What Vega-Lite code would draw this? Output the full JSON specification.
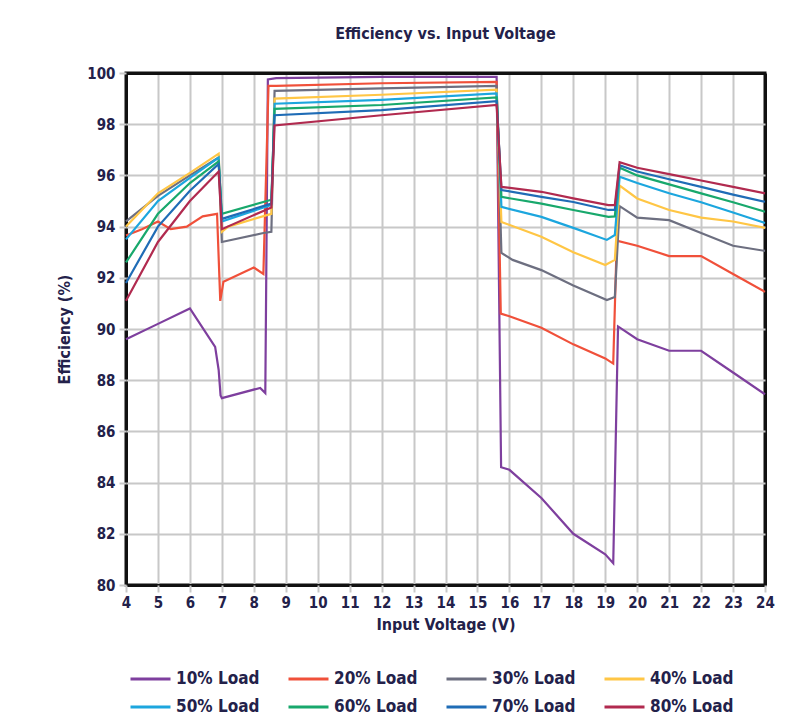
{
  "$schema": "https://vega.github.io/schema/vega-lite/v6.json",
  "width": 639,
  "height": 512,
  "autosize": {"type": "none"},
  "padding": {"left": 126, "top": 73, "right": 36, "bottom": 135},
  "background": "white",
  "config": {
    "font": "DejaVu Sans Condensed, sans-serif",
    "view": {"stroke": "#111111", "strokeWidth": 3},
    "axis": {
      "domain": false,
      "tickColor": "#c8c8c8",
      "tickWidth": 2,
      "tickSize": 7,
      "labelFont": "DejaVu Sans Condensed, sans-serif",
      "labelFontWeight": "bold",
      "labelFontSize": 15,
      "labelColor": "#23214a",
      "titleFont": "DejaVu Sans Condensed, sans-serif",
      "titleFontWeight": "bold",
      "titleFontSize": 16,
      "titleColor": "#23214a"
    }
  },
  "title": {
    "text": "Efficiency vs. Input Voltage",
    "font": "DejaVu Sans Condensed, sans-serif",
    "fontSize": 16,
    "fontWeight": "bold",
    "color": "#23214a",
    "anchor": "middle",
    "frame": "group",
    "offset": 24
  },
  "data": {
    "values": [
      {"v": 4, "e": 89.6, "s": "10% Load"},
      {"v": 5, "e": 90.2, "s": "10% Load"},
      {"v": 6, "e": 90.8, "s": "10% Load"},
      {"v": 6.79, "e": 89.3, "s": "10% Load"},
      {"v": 6.9, "e": 88.4, "s": "10% Load"},
      {"v": 6.96, "e": 87.4, "s": "10% Load"},
      {"v": 7.0, "e": 87.3, "s": "10% Load"},
      {"v": 8.2, "e": 87.7, "s": "10% Load"},
      {"v": 8.36, "e": 87.5, "s": "10% Load"},
      {"v": 8.44, "e": 99.75, "s": "10% Load"},
      {"v": 8.7, "e": 99.8, "s": "10% Load"},
      {"v": 12, "e": 99.85, "s": "10% Load"},
      {"v": 15.6, "e": 99.85, "s": "10% Load"},
      {"v": 15.74, "e": 84.6, "s": "10% Load"},
      {"v": 16, "e": 84.5, "s": "10% Load"},
      {"v": 17, "e": 83.4, "s": "10% Load"},
      {"v": 18, "e": 82.0, "s": "10% Load"},
      {"v": 19, "e": 81.2, "s": "10% Load"},
      {"v": 19.25, "e": 80.85, "s": "10% Load"},
      {"v": 19.4, "e": 90.1, "s": "10% Load"},
      {"v": 20, "e": 89.6, "s": "10% Load"},
      {"v": 21, "e": 89.15, "s": "10% Load"},
      {"v": 22, "e": 89.15, "s": "10% Load"},
      {"v": 23, "e": 88.3, "s": "10% Load"},
      {"v": 24, "e": 87.45, "s": "10% Load"},

      {"v": 4, "e": 93.65, "s": "20% Load"},
      {"v": 4.5, "e": 93.9, "s": "20% Load"},
      {"v": 5, "e": 94.2, "s": "20% Load"},
      {"v": 5.4, "e": 93.9, "s": "20% Load"},
      {"v": 5.9, "e": 94.0, "s": "20% Load"},
      {"v": 6.4, "e": 94.4, "s": "20% Load"},
      {"v": 6.85, "e": 94.5, "s": "20% Load"},
      {"v": 6.95, "e": 91.1, "s": "20% Load"},
      {"v": 7.05, "e": 91.85, "s": "20% Load"},
      {"v": 8.0, "e": 92.4, "s": "20% Load"},
      {"v": 8.3, "e": 92.15, "s": "20% Load"},
      {"v": 8.46, "e": 99.5, "s": "20% Load"},
      {"v": 8.7, "e": 99.5, "s": "20% Load"},
      {"v": 12, "e": 99.6, "s": "20% Load"},
      {"v": 15.6, "e": 99.65, "s": "20% Load"},
      {"v": 15.73, "e": 90.6, "s": "20% Load"},
      {"v": 16, "e": 90.5, "s": "20% Load"},
      {"v": 17, "e": 90.05, "s": "20% Load"},
      {"v": 18, "e": 89.4, "s": "20% Load"},
      {"v": 19, "e": 88.85, "s": "20% Load"},
      {"v": 19.25, "e": 88.65, "s": "20% Load"},
      {"v": 19.36, "e": 93.45, "s": "20% Load"},
      {"v": 20, "e": 93.25, "s": "20% Load"},
      {"v": 21, "e": 92.85, "s": "20% Load"},
      {"v": 22, "e": 92.85, "s": "20% Load"},
      {"v": 23, "e": 92.15, "s": "20% Load"},
      {"v": 24, "e": 91.45, "s": "20% Load"},

      {"v": 4, "e": 94.2, "s": "30% Load"},
      {"v": 5, "e": 95.2, "s": "30% Load"},
      {"v": 6, "e": 96.0, "s": "30% Load"},
      {"v": 6.9, "e": 96.7, "s": "30% Load"},
      {"v": 7.0, "e": 93.4, "s": "30% Load"},
      {"v": 8.3, "e": 93.75, "s": "30% Load"},
      {"v": 8.55, "e": 93.8, "s": "30% Load"},
      {"v": 8.65, "e": 99.3, "s": "30% Load"},
      {"v": 12, "e": 99.4, "s": "30% Load"},
      {"v": 15.6, "e": 99.5, "s": "30% Load"},
      {"v": 15.75, "e": 92.97, "s": "30% Load"},
      {"v": 16.1, "e": 92.7, "s": "30% Load"},
      {"v": 17, "e": 92.3, "s": "30% Load"},
      {"v": 18, "e": 91.7, "s": "30% Load"},
      {"v": 19.05, "e": 91.13, "s": "30% Load"},
      {"v": 19.3, "e": 91.25, "s": "30% Load"},
      {"v": 19.45, "e": 94.8, "s": "30% Load"},
      {"v": 20, "e": 94.35, "s": "30% Load"},
      {"v": 21, "e": 94.25, "s": "30% Load"},
      {"v": 22, "e": 93.75, "s": "30% Load"},
      {"v": 23, "e": 93.25, "s": "30% Load"},
      {"v": 24, "e": 93.05, "s": "30% Load"},

      {"v": 4, "e": 94.0, "s": "40% Load"},
      {"v": 5, "e": 95.3, "s": "40% Load"},
      {"v": 6, "e": 96.1, "s": "40% Load"},
      {"v": 6.9, "e": 96.85, "s": "40% Load"},
      {"v": 7.0, "e": 93.8, "s": "40% Load"},
      {"v": 7.2, "e": 94.0, "s": "40% Load"},
      {"v": 8.55, "e": 94.5, "s": "40% Load"},
      {"v": 8.65, "e": 99.0, "s": "40% Load"},
      {"v": 12, "e": 99.15, "s": "40% Load"},
      {"v": 15.6, "e": 99.35, "s": "40% Load"},
      {"v": 15.75, "e": 94.18, "s": "40% Load"},
      {"v": 17, "e": 93.6, "s": "40% Load"},
      {"v": 18, "e": 93.0, "s": "40% Load"},
      {"v": 19.0, "e": 92.5, "s": "40% Load"},
      {"v": 19.3, "e": 92.7, "s": "40% Load"},
      {"v": 19.45, "e": 95.6, "s": "40% Load"},
      {"v": 20, "e": 95.1, "s": "40% Load"},
      {"v": 21, "e": 94.65, "s": "40% Load"},
      {"v": 22, "e": 94.35, "s": "40% Load"},
      {"v": 23, "e": 94.2, "s": "40% Load"},
      {"v": 24, "e": 93.95, "s": "40% Load"},

      {"v": 4, "e": 93.5, "s": "50% Load"},
      {"v": 5, "e": 95.0, "s": "50% Load"},
      {"v": 6, "e": 95.9, "s": "50% Load"},
      {"v": 6.9, "e": 96.7, "s": "50% Load"},
      {"v": 7.0, "e": 94.2, "s": "50% Load"},
      {"v": 8.55, "e": 94.85, "s": "50% Load"},
      {"v": 8.65, "e": 98.8, "s": "50% Load"},
      {"v": 12, "e": 98.95, "s": "50% Load"},
      {"v": 15.6, "e": 99.2, "s": "50% Load"},
      {"v": 15.75, "e": 94.77, "s": "50% Load"},
      {"v": 17, "e": 94.38, "s": "50% Load"},
      {"v": 18, "e": 93.95, "s": "50% Load"},
      {"v": 19.05, "e": 93.48, "s": "50% Load"},
      {"v": 19.3, "e": 93.67, "s": "50% Load"},
      {"v": 19.45, "e": 95.95, "s": "50% Load"},
      {"v": 20, "e": 95.7, "s": "50% Load"},
      {"v": 21, "e": 95.3, "s": "50% Load"},
      {"v": 22, "e": 94.95, "s": "50% Load"},
      {"v": 23, "e": 94.55, "s": "50% Load"},
      {"v": 24, "e": 94.14, "s": "50% Load"},

      {"v": 4, "e": 92.6, "s": "60% Load"},
      {"v": 5, "e": 94.5, "s": "60% Load"},
      {"v": 6, "e": 95.7, "s": "60% Load"},
      {"v": 6.9, "e": 96.55, "s": "60% Load"},
      {"v": 7.0, "e": 94.5, "s": "60% Load"},
      {"v": 8.55, "e": 95.05, "s": "60% Load"},
      {"v": 8.65, "e": 98.6, "s": "60% Load"},
      {"v": 12, "e": 98.75, "s": "60% Load"},
      {"v": 15.6, "e": 99.05, "s": "60% Load"},
      {"v": 15.75, "e": 95.16, "s": "60% Load"},
      {"v": 17, "e": 94.9, "s": "60% Load"},
      {"v": 18, "e": 94.65, "s": "60% Load"},
      {"v": 19.1, "e": 94.38, "s": "60% Load"},
      {"v": 19.3, "e": 94.4, "s": "60% Load"},
      {"v": 19.45, "e": 96.3, "s": "60% Load"},
      {"v": 20, "e": 96.0, "s": "60% Load"},
      {"v": 21, "e": 95.65, "s": "60% Load"},
      {"v": 22, "e": 95.3, "s": "60% Load"},
      {"v": 23, "e": 94.95, "s": "60% Load"},
      {"v": 24, "e": 94.58, "s": "60% Load"},

      {"v": 4, "e": 91.8, "s": "70% Load"},
      {"v": 5, "e": 94.0, "s": "70% Load"},
      {"v": 6, "e": 95.4, "s": "70% Load"},
      {"v": 6.9, "e": 96.45, "s": "70% Load"},
      {"v": 7.0, "e": 94.3, "s": "70% Load"},
      {"v": 8.55, "e": 94.9, "s": "70% Load"},
      {"v": 8.65, "e": 98.35, "s": "70% Load"},
      {"v": 12, "e": 98.55, "s": "70% Load"},
      {"v": 15.6, "e": 98.9, "s": "70% Load"},
      {"v": 15.75, "e": 95.43, "s": "70% Load"},
      {"v": 17, "e": 95.16, "s": "70% Load"},
      {"v": 18, "e": 94.96, "s": "70% Load"},
      {"v": 19.1, "e": 94.65, "s": "70% Load"},
      {"v": 19.3, "e": 94.65, "s": "70% Load"},
      {"v": 19.45, "e": 96.4, "s": "70% Load"},
      {"v": 20, "e": 96.15, "s": "70% Load"},
      {"v": 21, "e": 95.85, "s": "70% Load"},
      {"v": 22, "e": 95.55, "s": "70% Load"},
      {"v": 23, "e": 95.25, "s": "70% Load"},
      {"v": 24, "e": 94.97, "s": "70% Load"},

      {"v": 4, "e": 91.1, "s": "80% Load"},
      {"v": 5, "e": 93.4, "s": "80% Load"},
      {"v": 6, "e": 95.0, "s": "80% Load"},
      {"v": 6.9, "e": 96.15, "s": "80% Load"},
      {"v": 7.0, "e": 93.9, "s": "80% Load"},
      {"v": 8.55, "e": 94.75, "s": "80% Load"},
      {"v": 8.65, "e": 97.95, "s": "80% Load"},
      {"v": 12, "e": 98.35, "s": "80% Load"},
      {"v": 15.6, "e": 98.75, "s": "80% Load"},
      {"v": 15.75, "e": 95.55, "s": "80% Load"},
      {"v": 17, "e": 95.36, "s": "80% Load"},
      {"v": 18, "e": 95.1, "s": "80% Load"},
      {"v": 19.1, "e": 94.84, "s": "80% Load"},
      {"v": 19.3, "e": 94.84, "s": "80% Load"},
      {"v": 19.45, "e": 96.52, "s": "80% Load"},
      {"v": 20, "e": 96.3, "s": "80% Load"},
      {"v": 21, "e": 96.05, "s": "80% Load"},
      {"v": 22, "e": 95.8, "s": "80% Load"},
      {"v": 23, "e": 95.55, "s": "80% Load"},
      {"v": 24, "e": 95.3, "s": "80% Load"}
    ]
  },
  "mark": {"type": "line", "strokeWidth": 2.2, "interpolate": "linear"},
  "encoding": {
    "x": {
      "field": "v",
      "type": "quantitative",
      "scale": {"domain": [4, 24], "nice": false, "zero": false},
      "axis": {
        "title": "Input Voltage (V)",
        "values": [4,5,6,7,8,9,10,11,12,13,14,15,16,17,18,19,20,21,22,23,24],
        "format": "d",
        "labelFlush": false,
        "labelPadding": 3,
        "titlePadding": 6,
        "gridColor": {"condition": {"test": "datum.value == 4 || datum.value == 24", "value": "#111111"}, "value": "#c8c8c8"},
        "gridWidth": {"condition": {"test": "datum.value == 4 || datum.value == 24", "value": 3}, "value": 2}
      }
    },
    "y": {
      "field": "e",
      "type": "quantitative",
      "scale": {"domain": [80, 100], "nice": false, "zero": false},
      "axis": {
        "title": "Efficiency (%)",
        "values": [80,82,84,86,88,90,92,94,96,98,100],
        "labelFlush": false,
        "labelPadding": 4,
        "titlePadding": 14,
        "gridColor": {"condition": {"test": "datum.value == 80 || datum.value == 100", "value": "#111111"}, "value": "#c8c8c8"},
        "gridWidth": {"condition": {"test": "datum.value == 80 || datum.value == 100", "value": 3}, "value": 2}
      }
    },
    "color": {
      "field": "s",
      "type": "nominal",
      "scale": {
        "domain": ["10% Load", "20% Load", "30% Load", "40% Load", "50% Load", "60% Load", "70% Load", "80% Load"],
        "range": ["#7e3f9e", "#f0503a", "#6d6f80", "#ffc645", "#1ca6de", "#18a86c", "#1f6cb6", "#b12a4f"]
      },
      "legend": {
        "title": null,
        "orient": "none",
        "legendX": 3,
        "legendY": 596,
        "direction": "horizontal",
        "columns": 4,
        "symbolType": "stroke",
        "symbolSize": 1600,
        "symbolStrokeWidth": 3,
        "clipHeight": 20,
        "labelFont": "DejaVu Sans Condensed, sans-serif",
        "labelFontWeight": "bold",
        "labelFontSize": 17,
        "labelColor": "#23214a",
        "labelOffset": 4,
        "columnPadding": 27,
        "rowPadding": 8
      }
    }
  }
}
